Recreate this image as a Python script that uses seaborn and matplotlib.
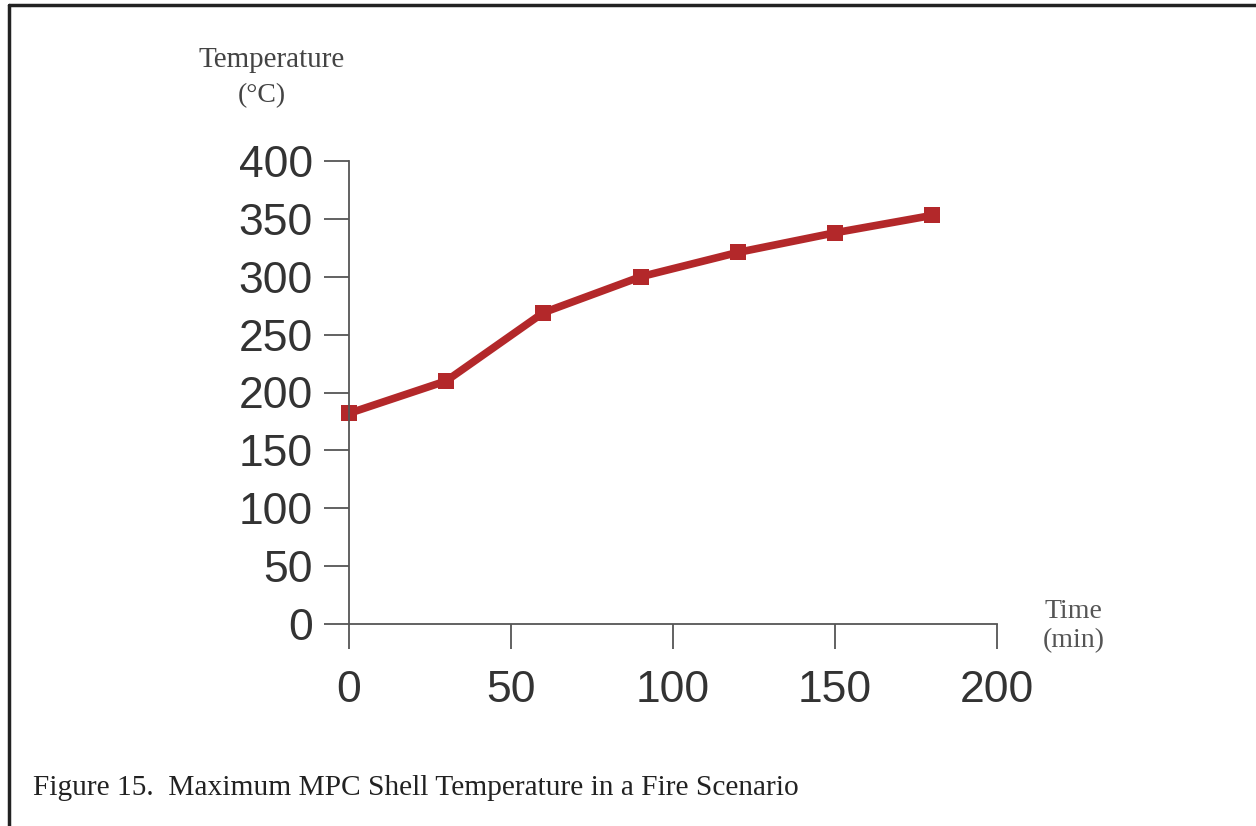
import matplotlib
matplotlib.use("Agg")
import matplotlib.pyplot as plt
import seaborn as sns
import pandas as pd
from matplotlib.lines import Line2D

time_min = [0, 30, 60, 90, 120, 150, 180]
temperature_c = [182, 210, 269, 300, 321, 338, 353]
x_ticks = [0, 50, 100, 150, 200]
y_ticks = [0, 50, 100, 150, 200, 250, 300, 350, 400]

df = pd.DataFrame({"time": time_min, "temp": temperature_c})

sns.set_style("white")
plt.rcParams['font.family'] = ['Liberation Sans', 'DejaVu Sans']

fig = plt.figure(figsize=(12.56, 8.26), dpi=100)
W, H = 1256, 826
ax = fig.add_axes([349 / W, (H - 624) / H, (997 - 349) / W, (624 - 161) / H])

sns.lineplot(data=df, x="time", y="temp", ax=ax, color="#B3282A", linewidth=5.5,
             marker="s", markersize=12, markeredgewidth=0, markerfacecolor="#B3282A")
for ln in ax.get_lines():
    ln.set_clip_on(False)

ax.set_xlim(0, 200)
ax.set_ylim(0, 400)
ax.set_xticks(x_ticks)
ax.set_yticks(y_ticks)
ax.set_xlabel("")
ax.set_ylabel("")
for s in ["top", "right"]:
    ax.spines[s].set_visible(False)
for s in ["left", "bottom"]:
    ax.spines[s].set_color("#555555")
    ax.spines[s].set_linewidth(1.3)
ax.tick_params(axis="both", direction="out", length=18, width=1.3, color="#555555",
               labelsize=32, labelcolor="#333333", bottom=True, left=True)
ax.tick_params(axis="y", pad=8)
ax.tick_params(axis="x", pad=15)
ax.patch.set_alpha(0)

serif = ['Liberation Serif', 'DejaVu Serif']
fig.text(272 / W, 1 - 60 / H, "Temperature", ha="center", va="center",
         fontsize=21, color="#444444", family=serif)
fig.text(262 / W, 1 - 96 / H, "(°C)", ha="center", va="center",
         fontsize=20, color="#444444", family=serif)
fig.text(1073 / W, 1 - 611 / H, "Time", ha="center", va="center",
         fontsize=20, color="#555555", family=serif)
fig.text(1074 / W, 1 - 641 / H, "(min)", ha="center", va="center",
         fontsize=20, color="#555555", family=serif)
fig.text(33 / W, 1 - 788 / H, "Figure 15.  Maximum MPC Shell Temperature in a Fire Scenario",
         ha="left", va="center", fontsize=21.2, color="#222222", family=serif)

# frame lines (left and top) of the scanned figure box
fig.add_artist(Line2D([9 / W, 9 / W], [0, 1 - 5 / H], transform=fig.transFigure,
                      color="#222222", linewidth=2.5))
fig.add_artist(Line2D([9 / W, 1], [1 - 5 / H, 1 - 5 / H], transform=fig.transFigure,
                      color="#222222", linewidth=2.5))

fig.savefig("out.png", dpi=100)
